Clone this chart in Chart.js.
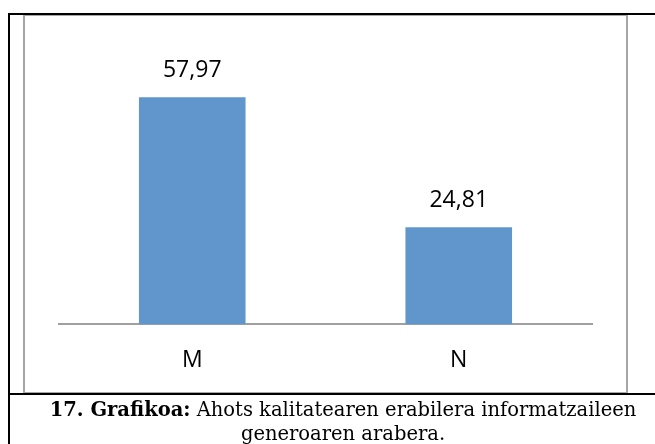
<!DOCTYPE html>
<html>
<head>
<meta charset="utf-8">
<script src="https://cdn.jsdelivr.net/npm/chart.js@4"></script>
<style>
  html, body { margin: 0; padding: 0; background: #fff; }
  body { width: 655px; height: 444px; position: relative; overflow: hidden; }
  .cell-top { position: absolute; left: 8px; top: 13px; width: 660px; height: 2px; background: #000; }
  .cell-left { position: absolute; left: 8px; top: 13px; width: 2px; height: 440px; background: #000; }
  .cell-sep { position: absolute; left: 8px; top: 393px; width: 660px; height: 2px; background: #000; }
  .chart-box { position: absolute; left: 23px; top: 14px; width: 601px; height: 376px; border: 2px solid #a6a6a6; }
  #wrap { position: absolute; left: 0; top: 0; width: 655px; height: 444px; }
  .caption { position: absolute; left: 10px; width: 666px; top: 398px; text-align: center;
             font-family: 'DejaVu Serif', serif; font-size: 19.5px; line-height: 24px; color: #000; }
</style>
</head>
<body>
<div class="chart-box"></div>
<div class="cell-top"></div>
<div class="cell-left"></div>
<div class="cell-sep"></div>
<div id="wrap"><canvas id="chart" width="655" height="444"></canvas></div>
<div class="caption"><b>17. Grafikoa:</b> Ahots kalitatearen erabilera informatzaileen<br>generoaren arabera.</div>

<script>
// data
const categories = ['M', 'N'];
const values = [57.97, 24.81];

const BAR_COLOR = '#6096cb';
const FONT = "'Open Sans', sans-serif";

// value labels above bars (comma decimals)
const valueLabels = {
  id: 'valueLabels',
  afterDatasetsDraw(chart) {
    const ctx = chart.ctx;
    const meta = chart.getDatasetMeta(0);
    ctx.save();
    ctx.font = '23px ' + FONT;
    ctx.fillStyle = '#000';
    ctx.textAlign = 'center';
    ctx.textBaseline = 'middle';
    meta.data.forEach((bar, i) => {
      const txt = values[i].toFixed(2).replace('.', ',');
      ctx.fillText(txt, bar.x, bar.y - 27);
    });
    ctx.restore();
  }
};

new Chart(document.getElementById('chart'), {
  type: 'bar',
  data: {
    labels: categories,
    datasets: [{
      data: values,
      backgroundColor: BAR_COLOR,
      barPercentage: 0.4,
      categoryPercentage: 1.0
    }]
  },
  options: {
    responsive: false,
    animation: false,
    layout: { padding: { left: 59, right: 63, top: 50, bottom: 56 } },
    plugins: {
      legend: { display: false },
      tooltip: { enabled: false }
    },
    scales: {
      x: {
        grid: { display: false },
        border: { display: true, color: '#a0a0a0', width: 2 },
        ticks: { color: '#000', padding: 14, font: { family: FONT, size: 23 } }
      },
      y: {
        display: false,
        min: 0,
        max: 70
      }
    }
  },
  plugins: [valueLabels]
});
</script>
</body>
</html>
